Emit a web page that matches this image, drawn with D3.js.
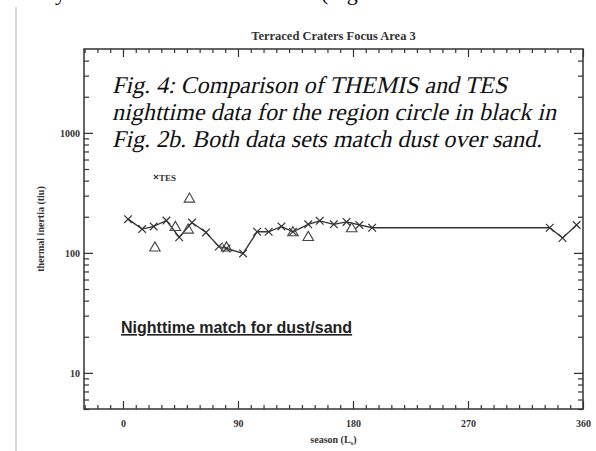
<!DOCTYPE html>
<html>
<head>
<meta charset="utf-8">
<script src="https://cdn.jsdelivr.net/npm/d3@7"></script>
<style>
  html, body { margin: 0; padding: 0; background: #fff; }
  .tick text { font-family: "Liberation Serif", serif; font-weight: bold; font-size: 10px; fill: #333; }
  .tick line { stroke: #333; stroke-width: 1.2; }
  .domain { display: none; }
  .serif { font-family: "Liberation Serif", "Times New Roman", serif; }
  .cap { font-family: "Liberation Serif", "Times New Roman", serif; font-size: 24px; fill: #111; }
</style>
</head>
<body>
<div id="chart"></div>
<script>
// THEMIS nighttime (x markers, connected)
const themisSeason = [4, 15, 24, 34, 44, 54, 65, 75, 81, 94, 105, 114, 124, 133, 145, 154, 165, 175, 185, 195, 334, 344, 355];
const themisTI     = [191, 158, 166, 186, 135, 179, 148, 113, 109, 99, 150, 150, 166, 150, 173, 185, 173, 181, 171, 162, 162, 133, 171];
// TES (triangles)
const tesSeason = [25, 41, 51, 52, 81, 133, 145, 179];
const tesTI     = [112, 166, 158, 286, 112, 150, 137, 162];

const xMajor = [0, 90, 180, 270, 360];
const yMajor = [10, 100, 1000];
const captionLines = [
  "Fig. 4: Comparison of THEMIS and TES",
  "nighttime data for the region circle in black in",
  "Fig. 2b. Both data sets match dust over sand."
];
const captionWidths = [395, 444, 430];

const width = 596, height = 451;
const svg = d3.select("#chart").append("svg")
              .attr("width", width)
              .attr("height", height)
              .style("display", "block");

svg.append("rect").attr("width", width).attr("height", height).attr("fill", "#fff");

// page margin line and cut-off text from the document above
svg.append("line").attr("x1", 16).attr("x2", 16).attr("y1", 7).attr("y2", height)
   .attr("stroke", "#cfcfcf").attr("stroke-width", 1.5);
svg.append("text").attr("class", "serif").attr("x", 55).attr("y", -0.5)
   .style("font-size", "22px")
   .text("y");
svg.append("text").attr("class", "serif").attr("x", 321).attr("y", -0.5)
   .style("font-size", "22px")
   .text("(Fig");

const pLeft = 84, pRight = 583, pTop = 49, pBottom = 409;
const x = d3.scaleLinear().domain([-30.5, 360]).range([pLeft, pRight]);
const y = d3.scaleLog().domain([5, 5000]).range([pBottom, pTop]);

const xMinor = d3.range(-30, 360, 10).filter(v => !xMajor.includes(v));
const yMinor = [];
[1, 10, 100, 1000].forEach(d => { for (let k = 2; k <= 9; k++) if (d * k >= 5 && d * k < 5000) yMinor.push(d * k); });

// axes (ticks point inward)
svg.append("g").attr("transform", `translate(0,${pBottom})`)
   .call(d3.axisBottom(x).tickValues(xMajor).tickSize(-8).tickPadding(11).tickFormat(d3.format("d")));
svg.append("g").attr("transform", `translate(0,${pBottom})`)
   .call(d3.axisBottom(x).tickValues(xMinor).tickSize(-4).tickFormat(""));
svg.append("g").attr("transform", `translate(0,${pTop})`)
   .call(d3.axisTop(x).tickValues(xMajor).tickSize(-8).tickFormat(""));
svg.append("g").attr("transform", `translate(0,${pTop})`)
   .call(d3.axisTop(x).tickValues(xMinor).tickSize(-4).tickFormat(""));

svg.append("g").attr("transform", `translate(${pLeft},0)`)
   .call(d3.axisLeft(y).tickValues(yMajor).tickSize(-9).tickPadding(4).tickFormat(d3.format("d")));
svg.append("g").attr("transform", `translate(${pLeft},0)`)
   .call(d3.axisLeft(y).tickValues(yMinor).tickSize(-5).tickFormat(""));
svg.append("g").attr("transform", `translate(${pRight},0)`)
   .call(d3.axisRight(y).tickValues(yMajor).tickSize(-9).tickFormat(""));
svg.append("g").attr("transform", `translate(${pRight},0)`)
   .call(d3.axisRight(y).tickValues(yMinor).tickSize(-5).tickFormat(""));

svg.append("rect")
   .attr("x", pLeft).attr("y", pTop)
   .attr("width", pRight - pLeft).attr("height", pBottom - pTop)
   .attr("fill", "none").attr("stroke", "#333").attr("stroke-width", 1.5);

// titles
svg.append("text").attr("class", "serif").attr("x", (pLeft + pRight) / 2).attr("y", 40)
   .attr("text-anchor", "middle")
   .style("font-weight", "bold").style("font-size", "12.5px").style("fill", "#333")
   .text("Terraced Craters Focus Area 3");

const xl = svg.append("text").attr("class", "serif").attr("x", (pLeft + pRight) / 2).attr("y", 443)
   .attr("text-anchor", "middle")
   .style("font-weight", "bold").style("font-size", "10px").style("fill", "#333");
xl.append("tspan").text("season (L");
xl.append("tspan").attr("dy", 2).style("font-size", "7px").text("s");
xl.append("tspan").attr("dy", -2).text(")");

svg.append("text").attr("class", "serif")
   .attr("transform", `translate(44,${(pTop + pBottom) / 2}) rotate(-90)`)
   .attr("text-anchor", "middle")
   .style("font-weight", "bold").style("font-size", "10px").style("fill", "#333")
   .text("thermal inertia (tiu)");

// data
const line = d3.line().x(d => x(d[0])).y(d => y(d[1]));
const themis = themisSeason.map((s, i) => [s, themisTI[i]]);
const tes = tesSeason.map((s, i) => [s, tesTI[i]]);

svg.append("path").datum(themis)
   .attr("d", line).attr("fill", "none")
   .attr("stroke", "#333").attr("stroke-width", 1.3);

const cross = d3.symbol().type(d3.symbolX).size(40);
svg.selectAll(".xm").data(themis).enter().append("path")
   .attr("class", "xm")
   .attr("transform", d => `translate(${x(d[0])},${y(d[1])})`)
   .attr("d", cross).attr("fill", "none")
   .attr("stroke", "#333").attr("stroke-width", 1.2);

const tri = d3.symbol().type(d3.symbolTriangle).size(48);
svg.selectAll(".tri").data(tes).enter().append("path")
   .attr("class", "tri")
   .attr("transform", d => `translate(${x(d[0])},${y(d[1]) + 1})`)
   .attr("d", tri).attr("fill", "none")
   .attr("stroke", "#444").attr("stroke-width", 1.1);

// legend
svg.append("path").attr("transform", "translate(156,177)")
   .attr("d", d3.symbol().type(d3.symbolX).size(14)).attr("fill", "none")
   .attr("stroke", "#333").attr("stroke-width", 1.2);
svg.append("text").attr("class", "serif").attr("x", 159).attr("y", 180.5)
   .style("font-weight", "bold").style("font-size", "9px").style("fill", "#333")
   .text("TES");

// caption: the italic face is slanted by hand so it stays a Times-like serif
svg.selectAll(".cap").data(captionLines).enter().append("text")
   .attr("class", "cap")
   .attr("transform", (d, i) => `translate(112,${93 + i * 27}) skewX(-13)`)
   .attr("textLength", (d, i) => captionWidths[i])
   .attr("lengthAdjust", "spacing")
   .text(d => d);

svg.append("text").attr("x", 121).attr("y", 333)
   .style("font-family", "'Liberation Sans', Arial, sans-serif").style("font-weight", "bold")
   .style("font-size", "16px").style("fill", "#222")
   .style("text-decoration", "underline")
   .text("Nighttime match for dust/sand");
</script>
</body>
</html>
